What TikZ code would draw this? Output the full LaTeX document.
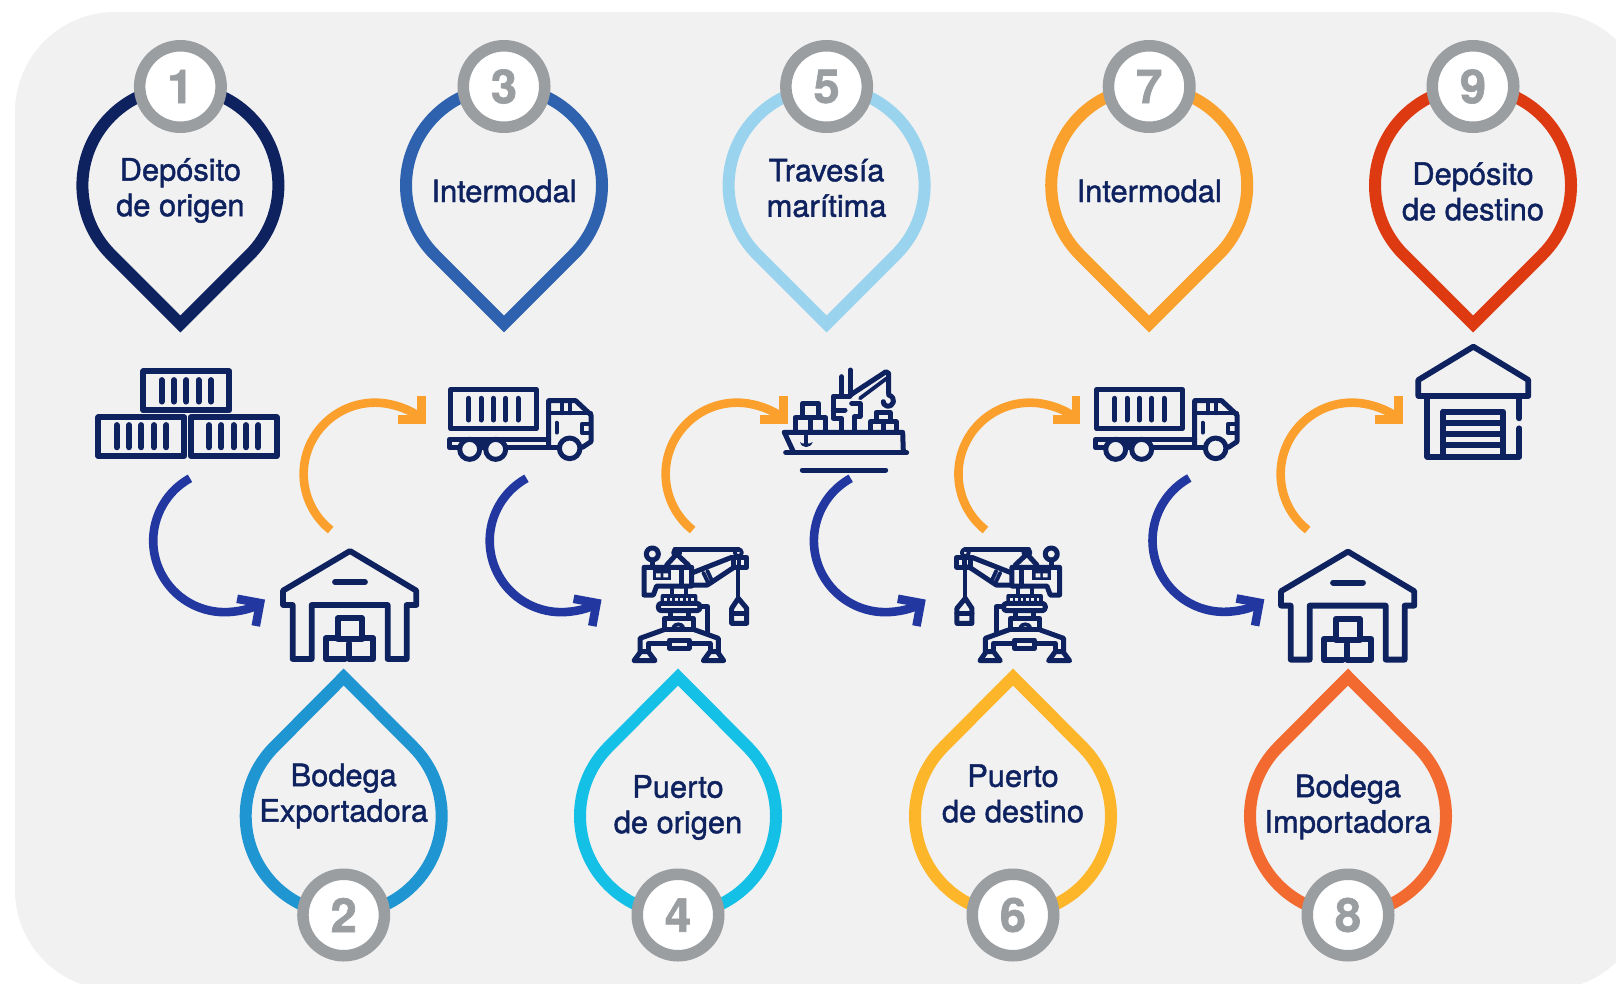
\documentclass[tikz,border=0pt]{standalone}
\usepackage{fontspec}
\setmainfont[FakeBold=1.4]{TeX Gyre Heros}
\usetikzlibrary{arrows.meta}
\definecolor{bgc}{HTML}{F1F1F1}
\definecolor{navy}{HTML}{0F2260}
\definecolor{ringc}{HTML}{9B9EA1}
\definecolor{bluear}{HTML}{2238A0}
\definecolor{orangear}{HTML}{FBA02D}
\definecolor{p1}{HTML}{0F2260}
\definecolor{p2}{HTML}{1F96D2}
\definecolor{p3}{HTML}{2E62AE}
\definecolor{p4}{HTML}{14C0E6}
\definecolor{p5}{HTML}{9AD3EE}
\definecolor{p6}{HTML}{FDB62A}
\definecolor{p7}{HTML}{FAA02C}
\definecolor{p8}{HTML}{F26A30}
\definecolor{p9}{HTML}{DD3A12}
\tikzset{
 pinline/.style={line width=12pt,miter limit=10,line join=miter,fill=none},
 ring/.style={circle,draw=ringc,line width=11.5pt,fill=white,minimum size=81.5pt,inner sep=0pt,text=ringc,font=\fontsize{47}{47}\selectfont\bfseries},
 lab/.style={text=navy,align=center,font=\fontsize{30.8}{35.5}\selectfont,inner sep=0pt},
 ic/.style={draw=navy,line width=5.8pt,line join=round,line cap=round,fill=none},
 icthin/.style={draw=navy,line width=4.2pt,line join=round,line cap=round,fill=none},
 finer/.style={ic/.append style={line width=5pt},icthin/.append style={line width=3.8pt}},
 flowb/.style={draw=bluear,line width=8.6pt,-{Straight Barb[length=16.5pt,width=33pt,line width=8.6pt]}},
 flowo/.style={draw=orangear,line width=8.6pt,-{Straight Barb[length=16.5pt,width=33pt,line width=8.6pt]}},
 zoomunits/.style={x=0.33333pt,y=-0.33333pt},
}
\newcommand\PinTop[2]{\draw[pinline,draw=#2] (#1,324) -- ++(69.3,-69.3) arc[start angle=-45,end angle=225,radius=98pt] -- cycle;}
\newcommand\PinBot[2]{\draw[pinline,draw=#2] (#1,677) -- ++(-69.3,69.7) arc[start angle=135,end angle=405,radius=98pt] -- cycle;}
\newcommand\Warehouse{%
 \draw[ic] (870,603) -- (1069,722) -- (1069,765) -- (1040,765) -- (1040,927) -- (983,927) -- (983,765) -- (755,765) -- (755,927) -- (698,927) -- (698,765) -- (669,765) -- (669,722) -- cycle;
 \draw[ic] (825,696) -- (915,696);
 \draw[ic] (833,805) rectangle (906,868);
 \draw[ic] (830,865) -- (797,865) -- (797,927) -- (855,927);
 \draw[ic] (868,880) -- (868,927) -- (940,927) -- (940,865) -- (906,865);
}
\newcommand\Truck{%
 \draw[ic] (50,179) rectangle (307,296);
 \foreach \s in {104,141,178,215,252} \draw[ic] (\s,205) -- (\s,270);
 \draw[ic] (344,350) -- (344,212) -- (425,212) -- (471,255) -- (471,335) -- (445,352);
 \draw[icthin] (344,250) -- (471,250) (385,212) -- (385,250) (408,212) -- (408,250);
 \draw[icthin] (368,278) -- (368,308);
 \draw[icthin] (471,282) -- (443,282) -- (443,308) -- (471,308);
 \draw[ic] (344,328) -- (46,328) -- (46,353) -- (78,353) (137,353) -- (155,353) (215,353) -- (375,353);
 \draw[icthin] (137,332) -- (146,345) -- (155,332);
 \draw[ic,fill=bgc] (107,358) circle[radius=10pt];
 \draw[ic,fill=bgc] (185,358) circle[radius=10pt];
 \draw[ic,fill=bgc] (407,355) circle[radius=10.3pt];
}
\newcommand\Crane{%
 \draw[ic] (97,612) circle[radius=6pt];
 \draw[ic] (97,630) -- (97,648);
 \draw[ic] (165,597) -- (355,597);
 \draw[icthin] (170,608) circle[radius=3.5pt] (355,608) circle[radius=3.5pt];
 \draw[ic] (140,645) -- (170,612) -- (205,645);
 \draw[ic] (72,735) -- (72,652) -- (215,652) -- (215,708) -- (110,708) -- (100,735) -- cycle;
 \fill[navy] (98,660) rectangle (154,690);
 \fill[bgc] (108,670) rectangle (122,682) (130,670) rectangle (144,682);
 \draw[ic] (185,652) -- (185,708);
 \draw[ic] (218,668) -- (335,622);
 \draw[ic] (218,705) -- (262,705) -- (345,650);
 \draw[icthin] (250,668) -- (265,700) (262,662) -- (277,695);
 \draw[ic] (340,622) rectangle (380,652);
 \fill[navy] (350,630) rectangle (364,644);
 \draw[icthin] (355,652) -- (355,740);
 \draw[ic] (355,745) -- (335,775) -- (335,820) -- (380,820) -- (380,775) -- cycle;
 \draw[ic] (335,790) -- (380,790);
 \draw[icthin] (155,708) -- (155,735) (198,708) -- (198,735);
 \fill[navy,rounded corners=2pt] (122,732) rectangle (232,762);
 \foreach \s in {133,149,165,181,197,213} \fill[bgc] (\s,745) rectangle +(8,10);
 \draw[ic,rounded corners=3pt] (115,760) rectangle (240,782);
 \draw[ic] (240,770) -- (262,770) -- (262,850);
 \draw[ic] (150,782) -- (150,805) (205,782) -- (205,805);
 \draw[ic] (132,805) rectangle (220,838);
 \draw[icthin] (160,832) .. controls (165,820) and (185,820) .. (190,832);
 \draw[ic] (85,905) -- (85,880) -- (145,880) (210,880) -- (270,880) -- (270,905);
 \draw[ic] (60,905) -- (60,865) -- (135,838) (220,838) -- (295,865) -- (295,905);
 \draw[ic] (148,870) rectangle (207,895);
 \draw[ic] (42,932) -- (62,905) -- (85,905) -- (105,932) -- cycle;
 \draw[ic] (250,932) -- (270,905) -- (292,905) -- (311,932) -- cycle;
}
\begin{document}
\begin{tikzpicture}[x=1pt,y=-1pt]
\useasboundingbox (0,0) rectangle (1616,983);
\clip (0,0) rectangle (1616,983);
\fill[white] (0,0) rectangle (1616,983);
\fill[bgc,rounded corners=100pt] (15,12) rectangle (1647,990);
% pins
\PinTop{180.4}{p1}
\PinTop{504}{p3}
\PinTop{826.6}{p5}
\PinTop{1149.2}{p7}
\PinTop{1473}{p9}
\PinBot{343.7}{p2}
\PinBot{678}{p4}
\PinBot{1013}{p6}
\PinBot{1348}{p8}
% rings
\node[ring] (n1) at (180.4,86.5) {1};
\node[ring] (n3) at (504,86.5) {3};
\node[ring] (n5) at (826.6,86.5) {5};
\node[ring] (n7) at (1149.2,86.5) {7};
\node[ring] (n9) at (1473,86.5) {9};
\node[ring] (n2) at (343.7,915) {2};
\node[ring] (n4) at (678,915) {4};
\node[ring] (n6) at (1013,915) {6};
\node[ring] (n8) at (1348,915) {8};
% labels
\node[lab] (t1) at (180.4,190.5) {Depósito\\de origen};
\node[lab] (t3) at (504,191) {Intermodal};
\node[lab] (t5) at (826.6,188) {Travesía\\marítima};
\node[lab] (t7) at (1149.2,191) {Intermodal};
\node[lab] (t9) at (1473,191.5) {Depósito\\de destino};
\node[lab] (t2) at (343.7,796) {Bodega\\Exportadora};
\node[lab] (t4) at (678,807.5) {Puerto\\de origen};
\node[lab] (t6) at (1013,793.5) {Puerto\\de destino};
\node[lab] (t8) at (1348,807) {Bodega\\Importadora};
% containers
\begin{scope}[shift={(60,350)},zoomunits]
 \draw[ic] (250,64) rectangle (508,181);
 \draw[ic] (115,202) rectangle (373,318);
 \draw[ic] (392,202) rectangle (650,318);
 \foreach \s in {305,342,379,416,453} \draw[ic] (\s,90) -- (\s,155);
 \foreach \s in {170,207,244,282,319} \draw[ic] (\s,225) -- (\s,292);
 \foreach \s in {447,484,521,558,595} \draw[ic] (\s,225) -- (\s,292);
\end{scope}
% warehouses
\begin{scope}[shift={(60,350)},zoomunits]\Warehouse\end{scope}
\begin{scope}[shift={(1058,350.6)},zoomunits]\Warehouse\end{scope}
% trucks
\begin{scope}[shift={(434,330)},zoomunits,finer]\Truck\end{scope}
\begin{scope}[shift={(1080,330)},zoomunits,finer]\Truck\end{scope}
% cranes
\begin{scope}[shift={(620,350)},zoomunits,finer]\Crane\end{scope}
\begin{scope}[shift={(1083.6,350)},x=-0.33333pt,y=-0.33333pt,finer]\Crane\end{scope}
% garage
\begin{scope}[shift={(1080,330)},zoomunits]
 \draw[ic] (1180,50) -- (1345,150) -- (1345,198) -- (1015,198) -- (1015,150) -- cycle;
 \draw[ic] (1318,295) -- (1318,380) -- (1042,380) -- (1042,198);
 \draw[ic] (1318,198) -- (1318,265);
 \draw[ic] (1090,245) -- (1270,245) -- (1270,380) (1090,245) -- (1090,380);
 \draw[ic,line cap=butt] (1090,280) -- (1270,280) (1090,312) -- (1270,312) (1090,345) -- (1270,345);
\end{scope}
% ship
\begin{scope}[shift={(620,350)},zoomunits,finer]
 \draw[ic] (493,247) -- (848,247) -- (850,305);
 \draw[ic] (493,247) -- (520,305);
 \draw[ic] (497,308) -- (860,308);
 \draw[ic] (547,360) -- (797,360);
 \draw[icthin] (558,258) -- (558,285);
 \fill[navy] (540,276) .. controls (545,296) and (572,296) .. (578,276) -- (570,280) -- (546,280) -- cycle;
 \draw[ic] (548,200) -- (548,160) -- (595,160) -- (595,200);
 \draw[ic] (525,240) -- (525,203) -- (617,203) -- (617,240);
 \draw[ic] (570,203) -- (570,240);
 \draw[ic] (768,213) -- (768,187) -- (810,187) -- (810,213);
 \draw[ic] (752,240) -- (752,215) -- (828,215) -- (828,240);
 \draw[ic] (790,215) -- (790,240);
 \draw[ic] (665,240) -- (665,205) -- (640,205) -- (640,138) -- (690,138);
 \draw[ic] (640,180) -- (675,180);
 \draw[ic] (695,160) -- (720,160) -- (720,200) -- (703,200) -- (703,240);
 \draw[ic] (691,60) -- (691,135);
 \draw[ic] (665,80) -- (665,135);
 \draw[ic] (691,135) -- (798,65) -- (806,70) -- (806,130);
 \draw[icthin] (720,145) -- (800,85);
 \draw[ic] (806,135) .. controls (830,142) and (822,172) .. (800,168) .. controls (792,166) and (790,160) .. (790,155);
\end{scope}
% connectors
\coordinate (b1) at (190,478.3);
\coordinate (b2) at (526.5,478.3);
\coordinate (b3) at (850.7,478.3);
\coordinate (b4) at (1189.3,478);
\coordinate (o1) at (330.7,530);
\coordinate (o2) at (692.7,530);
\coordinate (o3) at (985.5,530);
\coordinate (o4) at (1307.7,530);
\foreach \c in {b1,b2,b3,b4}
  \draw[flowb] (\c) arc[start angle=119,end angle=304.5,radius=71.4pt];
\foreach \c in {o1,o2,o3,o4}
  \draw[flowo] (\c) arc[start angle=231.6,end angle=45,radius=71.4pt];
\end{tikzpicture}
\end{document}
